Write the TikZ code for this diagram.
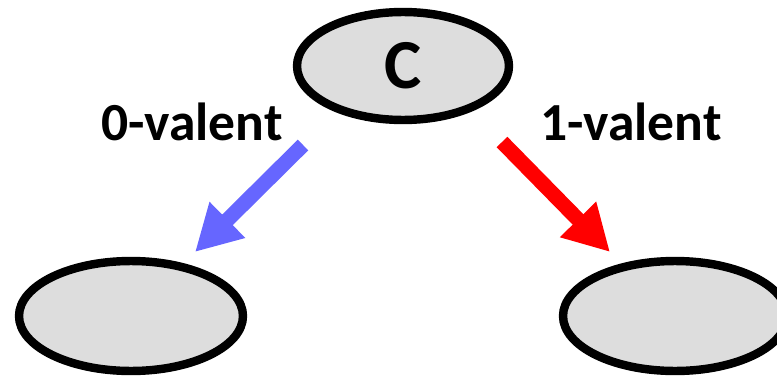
\documentclass[tikz,border=0pt]{standalone}
\usepackage{fontspec}
\setmainfont{Carlito}
\usetikzlibrary{arrows.meta,shapes.geometric}

\definecolor{cfill}{RGB}{221,221,221}
\definecolor{zeroblue}{RGB}{102,102,255}

\tikzset{
	config/.style={ellipse,draw=black,fill=cfill,line width=4.8pt,inner sep=0pt},
	valarrow/.style={-{Triangle[length=26pt,width=27pt]},line width=8.5pt},
	vallabel/.style={font=\bfseries\fontsize{30.5}{32}\selectfont}
}

\begin{document}
\begin{tikzpicture}[x=0.02cm,y=0.02cm]

\useasboundingbox (0,0) rectangle (777,376);

\node[config,minimum width=4.24cm,minimum height=2.16cm] (c) at (403,310)
	{\bfseries\fontsize{40}{42}\selectfont C};
\node[config,minimum width=4.48cm,minimum height=2.2cm] (v0) at (131,60) {};
\node[config,minimum width=4.48cm,minimum height=2.2cm] (v1) at (675,60) {};

\coordinate (t0) at (303,231);
\coordinate (h0) at (195,124);
\coordinate (t1) at (502,234);
\coordinate (h1) at (610,124);

\draw[valarrow,color=zeroblue] (t0)--(h0);
\draw[valarrow,color=red] (t1)--(h1);

\node[vallabel] (l0) at (192,254) {0-valent};
\node[vallabel] (l1) at (631,254) {1-valent};

\end{tikzpicture}
\end{document}
